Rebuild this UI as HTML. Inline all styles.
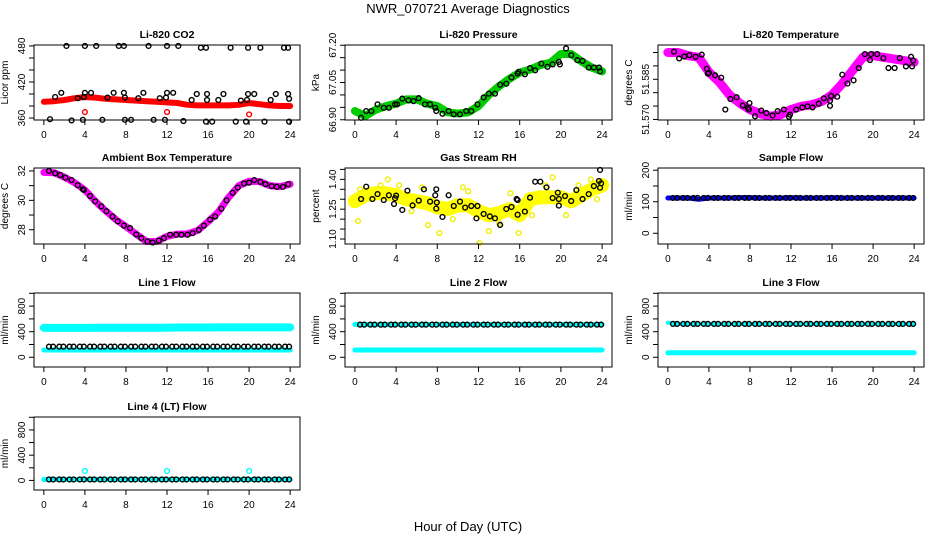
<!DOCTYPE html>
<html><head><meta charset="utf-8"><style>
body{margin:0;background:#fff}
svg{display:block;font-family:"Liberation Sans",sans-serif}
</style></head><body>
<svg id="c" width="936" height="540" viewBox="0 0 936 540">
<text x="468" y="13" text-anchor="middle" font-size="13">NWR_070721  Average Diagnostics</text>
<text x="468" y="531" text-anchor="middle" font-size="13">Hour of Day (UTC)</text>
</svg>
<script>
const xTicks=[0,4,8,12,16,20,24];
// CO2
const co2Red=[387,388,390,393,395,394,392,391,390,389,388,387,386,385,382,381,381,381,381,382,385,383,381,380,380];
const co2RedOut=[[4,370],[12,370],[20,366]];
const co2Black=[[2.2,480],[4,480],[5.1,480],[7.3,480],[7.8,480],[10.2,480],[12,480],[13.1,480],[15.3,477],[15.8,477],[18.2,477],[19.9,477],[21.1,477],[23.4,477],[23.8,477],
[1.1,395],[1.7,402],[3.3,393],[3.9,395],[4,402],[4.6,402],[6.2,394],[6.8,402],[7.8,402],[7.9,394],[9.2,393],[9.7,402],[11.3,393],[11.9,394],[12,402],[12.6,402],[14.4,390],[14.9,400],[15.9,400],[15.9,390],[17,390],[17.5,400],[19.2,389],[19.8,390],[19.9,400],[20.5,400],[22.1,390],[22.6,400],[23.8,400],[23.9,392],
[0.6,358],[2.7,356],[3.8,357],[5.7,357],[7.9,357],[8.5,357],[10.7,357],[11.8,357],[13.6,355],[15.8,354],[16.4,354],[18.7,354],[19.7,354],[21.5,354],[23.9,354]];
// Pressure
const presGreen=[66.935,66.915,66.94,66.955,66.965,66.982,66.982,66.965,66.955,66.93,66.925,66.93,66.955,67.0,67.035,67.065,67.09,67.102,67.12,67.13,67.165,67.165,67.135,67.11,67.095];
const presBlack=[[0.6,66.908],[1.1,66.935],[1.6,66.935],[2.2,66.962],[2.8,66.948],[3.3,66.948],[3.9,66.962],[4.1,66.962],[4.6,66.985],[5.2,66.978],[5.7,66.975],[6.2,66.987],[6.8,66.962],[7.3,66.962],[7.8,66.948],[7.9,66.935],[8.5,66.924],[9.1,66.935],[9.6,66.922],[10.2,66.922],[10.8,66.935],[11.3,66.935],[11.9,66.962],[12.5,66.99],[13,67.005],[13.6,67.005],[14.1,67.041],[14.7,67.045],[15.2,67.07],[15.8,67.086],[15.9,67.093],[16.5,67.083],[17,67.108],[17.5,67.099],[18.1,67.126],[18.7,67.113],[19.2,67.123],[19.8,67.133],[19.9,67.123],[20.5,67.187],[21,67.16],[21.6,67.14],[22.1,67.137],[22.7,67.11],[23.2,67.11],[23.7,67.11],[23.8,67.095]];
// Li-820 temperature
const tempMag=[51.5950,51.5950,51.5938,51.5932,51.5877,51.5840,51.5792,51.5761,51.5737,51.5721,51.5712,51.5718,51.5737,51.5749,51.5755,51.5767,51.5792,51.5834,51.5883,51.5932,51.5938,51.5932,51.5926,51.5920,51.5914];
const tempBlack=[[0.6,51.5953],[1.1,51.5928],[1.6,51.5935],[2.1,51.5940],[2.7,51.5934],[3.3,51.5942],[3.8,51.5889],[3.9,51.5871],[4,51.5874],[4.6,51.5865],[5.2,51.5856],[5.6,51.5737],[6.1,51.5776],[6.7,51.5783],[7.3,51.5752],[7.8,51.5743],[7.9,51.5737],[7.95,51.5761],[8.5,51.5712],[9.1,51.5733],[9.6,51.5724],[10.2,51.5715],[10.7,51.5731],[11.3,51.5737],[11.8,51.5710],[11.9,51.5718],[12.5,51.5737],[13.1,51.5745],[13.6,51.5749],[14.1,51.5745],[14.7,51.5759],[15.2,51.5779],[15.8,51.5770],[15.8,51.5751],[15.9,51.5788],[16.5,51.5785],[17,51.5867],[17.5,51.5834],[18.1,51.5846],[18.6,51.5892],[19.2,51.5944],[19.7,51.5922],[19.8,51.5944],[20.4,51.5944],[21,51.5929],[21.5,51.5892],[22.1,51.5892],[22.6,51.5929],[23.2,51.5898],[23.7,51.5934],[23.8,51.5898],[23.9,51.5920]];
// Ambient
const ambMag=[31.9,31.88,31.58,31.2,30.7,29.95,29.3,28.7,28.22,27.7,27.2,27.2,27.55,27.7,27.72,27.95,28.55,29.2,30.2,31.0,31.3,31.28,31.0,30.93,31.1];
const ambBlack=[[0.5,32.0],[1.1,31.84],[1.6,31.72],[2.1,31.54],[2.7,31.38],[3.3,31.03],[3.8,30.76],[3.9,30.7],[4.5,30.3],[5,29.93],[5.6,29.59],[6.1,29.26],[6.7,28.9],[7.2,28.57],[7.8,28.28],[8.4,28.11],[9,27.68],[9.5,27.43],[10.1,27.2],[10.6,27.13],[11.2,27.26],[11.7,27.43],[12.3,27.66],[12.9,27.66],[13.4,27.66],[14,27.66],[14.5,27.77],[15.1,27.98],[15.6,28.28],[16.2,28.69],[16.7,28.9],[17.3,29.43],[17.8,30.0],[18.4,30.51],[18.9,30.87],[19.5,31.15],[20,31.2],[20.5,31.38],[21.1,31.26],[21.6,31.1],[22.2,30.97],[22.7,30.92],[23.3,30.92],[23.8,31.1]];
// RH
const rhYellow=[1.29,1.32,1.33,1.33,1.32,1.30,1.29,1.28,1.26,1.25,1.27,1.27,1.24,1.22,1.23,1.25,1.22,1.30,1.31,1.31,1.31,1.29,1.32,1.35,1.37];
const rhYellowOut=[[0.3,1.19],[8.2,1.13],[12.1,1.08],[15.9,1.13],[19.2,1.41],[13,1.14],[22.9,1.40],[0.5,1.35],[3.2,1.40],[7.1,1.17],[10.5,1.36],[15.1,1.33],[2.5,1.37],[6.5,1.36],[9.5,1.20],[11,1.34],[14,1.18],[17.2,1.22],[18.5,1.37],[20.5,1.22],[21.7,1.37],[23.5,1.30],[4.3,1.37],[5.5,1.24]];
const rhBlack=[[0.6,1.301],[1.1,1.363],[1.7,1.301],[2.2,1.326],[2.8,1.296],[3.3,1.32],[3.8,1.276],[3.9,1.305],[4,1.318],[4.6,1.246],[5.1,1.343],[5.6,1.269],[6.2,1.293],[6.7,1.35],[7.3,1.288],[7.8,1.32],[7.9,1.35],[7.9,1.253],[7.95,1.284],[8.5,1.211],[9.1,1.32],[9.6,1.266],[10.2,1.288],[10.7,1.258],[11.3,1.266],[11.8,1.204],[11.9,1.266],[12.5,1.226],[13.1,1.214],[13.6,1.204],[14.1,1.171],[14.7,1.251],[15.2,1.261],[15.7,1.301],[15.8,1.296],[15.8,1.222],[16.5,1.238],[17,1.308],[17.5,1.388],[18,1.388],[18.6,1.36],[19.2,1.306],[19.7,1.333],[19.8,1.268],[19.8,1.301],[20.4,1.316],[21,1.291],[21.5,1.346],[22.1,1.301],[22.7,1.326],[23.2,1.366],[23.7,1.392],[23.8,1.447],[23.8,1.358],[23.9,1.38]];
// Flows (hourly means)
const sampleBlue=[112,112,112,108,112,112,112,113,113,112,112,112,113,112,112,112,113,112,112,112,112,112,112,112,112];
const sampleBlack=[112,112,112,112,112,112,112,112,112,112,112,112,112,112,112,112,112,112,112,112,112,112,112,112];
const l1CyanHi=[460,460,460,460,460,462,462,462,462,462,462,462,462,465,465,465,465,468,468,468,468,468,468,468,468];
const l1CyanLo=[114,114,114,114,114,114,114,114,114,114,114,114,114,114,114,114,114,114,114,114,114,114,114,114,114];
const l1Black=[166,166,166,166,166,166,166,166,166,166,166,166,166,166,166,166,166,166,166,166,166,166,166,166];
const l2CyanHi=[515,512,512,512,512,512,512,512,512,512,512,512,512,512,512,512,512,512,512,512,512,512,512,512,512];
const l2CyanLo=[114,114,114,114,114,114,114,114,114,114,114,114,114,114,114,114,114,114,114,114,114,114,114,114,114];
const l2Black=[510,510,510,510,510,510,510,510,510,510,510,510,510,510,510,510,510,510,510,510,510,510,510,510];
const l3CyanHi=[540,520,520,520,520,520,520,520,520,520,520,520,520,520,520,520,520,520,520,520,520,520,520,520,520];
const l3CyanLo=[70,70,70,70,70,70,70,70,70,70,70,70,70,70,70,70,70,70,70,70,70,70,70,70,70];
const l3Black=[522,522,522,522,522,522,522,522,522,522,522,522,522,522,522,522,522,522,522,522,522,522,522,522];
const l4Cyan=[15,15,15,15,15,15,15,15,15,15,15,15,15,15,15,15,15,15,15,15,15,15,15,15,15];
const l4CyanOut=[[4,150],[12,150],[20,150]];
const l4Black=[15,15,15,15,15,15,15,15,15,15,15,15,15,15,15,15,15,15,15,15,15,15,15,15];

const NS='http://www.w3.org/2000/svg';
const svg=document.getElementById('c');
function mk(tag,attrs,parent){const e=document.createElementNS(NS,tag);for(const k in attrs)e.setAttribute(k,attrs[k]);(parent||svg).appendChild(e);return e;}

function panel(o){
  const g=mk('g',{});
  
  
  const xs=v=>o.l+(v+0.96)/25.92*(o.r-o.l);
  const ys=v=>o.b-(v-o.y0)/(o.y1-o.y0)*(o.b-o.t);
  const data=mk('g',{},g);
  o.draw(data,xs,ys);
  const box=mk('rect',{x:o.l,y:o.t,width:o.r-o.l,height:o.b-o.t,fill:'none',stroke:'#000','stroke-width':1},g);
  
  
  const xa=mk('g',{},g);
  
  
  mk('line',{x1:xs(0),x2:xs(24),y1:o.b,y2:o.b,stroke:'#000'},xa);
  xTicks.forEach(t=>{
    mk('line',{x1:xs(t),x2:xs(t),y1:o.b,y2:o.b+5,stroke:'#000'},xa);
    const tx=mk('text',{x:xs(t),y:o.b+18,'text-anchor':'middle','font-size':10},xa);tx.textContent=t;
    
    
  });
  const ya=mk('g',{},g);
  
  
  o.ticks.forEach(t=>mk('line',{x1:o.l-5,x2:o.l,y1:ys(t),y2:ys(t),stroke:'#000'},ya));
  o.labels.forEach(t=>{
    const x=o.l-9,y=ys(t);
    const tx=mk('text',{x:x,y:y,'text-anchor':'middle','font-size':10,transform:`rotate(-90 ${x} ${y})`},ya);
    tx.textContent=t.toFixed(o.dec||0);
    
    
  });
  const yl=o.l-26,ym=(o.t+o.b)/2;
  const lab=mk('text',{x:yl,y:ym,'text-anchor':'middle','font-size':10,transform:`rotate(-90 ${yl} ${ym})`},g);
  lab.textContent=o.ylab;
  
  
  const ti=mk('text',{x:(o.l+o.r)/2,y:o.t-7,'text-anchor':'middle','font-size':10.5,'font-weight':'bold'},g);
  ti.textContent=o.title;
  
  
}
function band(p,arr,xs,ys,col,w,name){
  const pl=mk('polyline',{points:arr.map((v,i)=>xs(i)+','+ys(v)).join(' '),fill:'none',stroke:col,'stroke-width':w,'stroke-linejoin':'round','stroke-linecap':'round'},p);
  
  
}
function pts(p,arr,xs,ys,col,name){
  arr.forEach(d=>{
    const c=mk('circle',{cx:xs(d[0]),cy:ys(d[1]),r:2.4,fill:'none',stroke:col,'stroke-width':1.4},p);
    
    
  });
}
function halfHourPts(p,arr,xs,ys,col,name){
  arr.forEach((v,h)=>{[h+0.5,h+0.9].forEach(x=>{
    const c=mk('circle',{cx:xs(x),cy:ys(v),r:2.4,fill:'none',stroke:col,'stroke-width':1.4},p);
    
    
  });});
}
const step=(a,b,s)=>{const r=[];for(let v=a;v<=b+1e-9;v+=s)r.push(+v.toFixed(4));return r;};

panel({name:'co2-panel',title:'Li-820 CO2',ylab:'Licor ppm',l:34,t:45,r:300,b:120,y0:356.7,y1:481.6,ticks:step(360,480,20),labels:[360,420,480],
 draw:(g,xs,ys)=>{band(g,co2Red,xs,ys,'#f00',6,'co2-red-series');pts(g,co2RedOut,xs,ys,'#f00','co2-red-outlier');pts(g,co2Black,xs,ys,'#000','co2-black-point');}});
panel({name:'pressure-panel',title:'Li-820 Pressure',ylab:'kPa',l:345,t:45,r:612,b:120,y0:66.899,y1:67.201,ticks:step(66.9,67.2,0.05),labels:[66.9,67.05,67.2],dec:2,
 draw:(g,xs,ys)=>{band(g,presGreen,xs,ys,'#0c0',8,'pressure-green-series');pts(g,presBlack,xs,ys,'#000','pressure-black-point');}});
panel({name:'temperature-panel',title:'Li-820 Temperature',ylab:'degrees C',l:658,t:45,r:924,b:120,y0:51.5698,y1:51.5978,ticks:step(51.57,51.595,0.005),labels:[51.57,51.585],dec:3,
 draw:(g,xs,ys)=>{band(g,tempMag,xs,ys,'#f0f',9,'temperature-magenta-series');pts(g,tempBlack,xs,ys,'#000','temperature-black-point');}});
panel({name:'ambient-panel',title:'Ambient Box Temperature',ylab:'degrees C',l:34,t:168,r:300,b:244,y0:27.03,y1:32.2,ticks:[28,29,30,31,32],labels:[28,30,32],
 draw:(g,xs,ys)=>{band(g,ambMag,xs,ys,'#f0f',7,'ambient-magenta-series');pts(g,ambBlack,xs,ys,'#000','ambient-black-point');}});
panel({name:'rh-panel',title:'Gas Stream RH',ylab:'percent',l:345,t:168,r:612,b:244,y0:1.075,y1:1.457,ticks:step(1.1,1.45,0.05),labels:[1.1,1.25,1.4],dec:2,
 draw:(g,xs,ys)=>{band(g,rhYellow,xs,ys,'#ff0',14,'rh-yellow-series');pts(g,rhYellowOut,xs,ys,'#ee0','rh-yellow-point');pts(g,rhBlack,xs,ys,'#000','rh-black-point');}});
panel({name:'sample-flow-panel',title:'Sample Flow',ylab:'ml/min',l:658,t:168,r:924,b:244,y0:-34,y1:207,ticks:[0,50,100,150,200],labels:[0,100,200],
 draw:(g,xs,ys)=>{band(g,sampleBlue,xs,ys,'#00f',5,'sample-blue-series');halfHourPts(g,sampleBlack,xs,ys,'#000','sample-black-point');}});
const fT=step(0,1000,200),fL=[0,400,800];
panel({name:'line1-flow-panel',title:'Line 1 Flow',ylab:'ml/min',l:34,t:293,r:300,b:367,y0:-152,y1:1005,ticks:fT,labels:fL,
 draw:(g,xs,ys)=>{band(g,l1CyanHi,xs,ys,'#0ff',8,'line1-cyan-high');band(g,l1CyanLo,xs,ys,'#0ff',5,'line1-cyan-low');halfHourPts(g,l1Black,xs,ys,'#000','line1-black-point');}});
panel({name:'line2-flow-panel',title:'Line 2 Flow',ylab:'ml/min',l:345,t:293,r:612,b:367,y0:-152,y1:1005,ticks:fT,labels:fL,
 draw:(g,xs,ys)=>{band(g,l2CyanHi,xs,ys,'#0ff',5,'line2-cyan-high');band(g,l2CyanLo,xs,ys,'#0ff',5,'line2-cyan-low');halfHourPts(g,l2Black,xs,ys,'#000','line2-black-point');}});
panel({name:'line3-flow-panel',title:'Line 3 Flow',ylab:'ml/min',l:658,t:293,r:924,b:367,y0:-152,y1:1005,ticks:fT,labels:fL,
 draw:(g,xs,ys)=>{band(g,l3CyanHi,xs,ys,'#0ff',4,'line3-cyan-high');band(g,l3CyanLo,xs,ys,'#0ff',5,'line3-cyan-low');halfHourPts(g,l3Black,xs,ys,'#000','line3-black-point');}});
panel({name:'line4-flow-panel',title:'Line 4 (LT) Flow',ylab:'ml/min',l:34,t:417,r:300,b:490,y0:-152,y1:1005,ticks:fT,labels:fL,
 draw:(g,xs,ys)=>{band(g,l4Cyan,xs,ys,'#0ff',5,'line4-cyan-series');pts(g,l4CyanOut,xs,ys,'#0ff','line4-cyan-outlier');halfHourPts(g,l4Black,xs,ys,'#000','line4-black-point');}});
</script>
</body></html>
